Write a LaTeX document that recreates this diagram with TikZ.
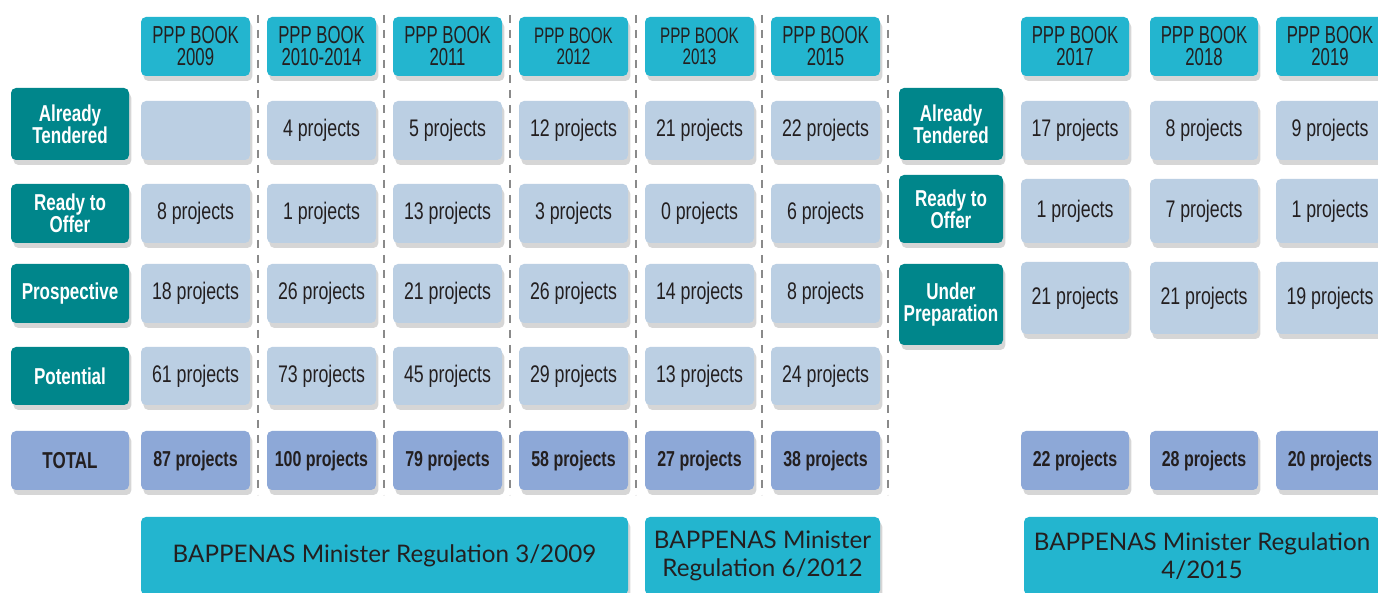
\documentclass[tikz,border=0pt]{standalone}
\usepackage{fontspec}
\newfontfamily\cond{Liberation Sans}[FakeStretch=0.74]
\newfontfamily\hcond{Liberation Sans}[FakeStretch=0.68]
\newfontfamily\regfont{Lato}
\usetikzlibrary{shadows}
\definecolor{hdr}{HTML}{23B5CF}
\definecolor{lbl}{HTML}{00868B}
\definecolor{cellc}{HTML}{BBCFE3}
\definecolor{totc}{HTML}{8DA8D7}
\definecolor{txt}{HTML}{231F20}
\definecolor{dashc}{HTML}{8A8A8A}
\begin{document}
\begin{tikzpicture}[x=0.5pt,y=-0.5pt,
  box/.style={rounded corners=2.5pt, inner sep=0pt, align=center,
    drop shadow={shadow xshift=1.2pt, shadow yshift=-2.5pt, opacity=0.16, fill=black}},
  hdrbox/.style={box, fill=hdr, text=txt, minimum width=54.5pt, minimum height=29.5pt,
    font=\hcond\fontsize{12.3}{11}\selectfont},
  cellbox/.style={box, fill=cellc, text=txt, minimum width=54.5pt, minimum height=29.5pt,
    font=\cond\fontsize{12}{13}\selectfont},
  totbox/.style={box, fill=totc, text=txt, minimum width=54.5pt, minimum height=29.5pt,
    font=\cond\bfseries\fontsize{10.8}{13}\selectfont},
  lblbox/.style={box, fill=lbl, text=white, minimum width=59pt, minimum height=29.5pt,
    font=\cond\bfseries\fontsize{11.5}{11}\selectfont},
  rlblbox/.style={lblbox, minimum width=52pt},
  regbox/.style={box, fill=hdr, text=txt, minimum height=39pt,
    font=\regfont\fontsize{12.1}{14}\selectfont},
  sep/.style={draw=dashc, line width=0.7pt, dash pattern=on 4pt off 3.5pt}
]
\clip (0,0) rectangle (1378,593);
\fill[white] (0,0) rectangle (1378,593);

% dashed separators
\foreach \x/\n in {258/a,384/b,510/c,636/d,762/e,888/f}{
  \coordinate (t\n) at (\x,15);
  \coordinate (b\n) at (\x,495);
  \draw[sep] (t\n) -- (b\n);
}

% headers
\node[hdrbox] (h1) at (195.5,46.5) {PPP BOOK\\2009};
\node[hdrbox] (h2) at (321.5,46.5) {PPP BOOK\\2010-2014};
\node[hdrbox] (h3) at (447.5,46.5) {PPP BOOK\\2011};
\node[hdrbox, font=\hcond\fontsize{11.2}{10.5}\selectfont] (h4) at (573.5,46.5) {PPP BOOK\\2012};
\node[hdrbox, font=\hcond\fontsize{11.2}{10.5}\selectfont] (h5) at (699.5,46.5) {PPP BOOK\\2013};
\node[hdrbox] (h6) at (825.5,46.5) {PPP BOOK\\2015};
\node[hdrbox, minimum width=54pt] (h7) at (1075,46.5) {PPP BOOK\\2017};
\node[hdrbox, minimum width=54pt] (h8) at (1204,46.5) {PPP BOOK\\2018};
\node[hdrbox, minimum width=54pt] (h9) at (1330,46.5) {PPP BOOK\\2019};

% left labels
\node[lblbox, minimum height=36pt] (lAT) at (70,124) {Already\\Tendered};
\node[lblbox] (lRO) at (70,213.5) {Ready to\\Offer};
\node[lblbox] (lPR) at (70,293.5) {Prospective};
\node[lblbox, minimum height=29pt] (lPO) at (70,376) {Potential};
\node[lblbox, fill=totc, text=txt] (lTO) at (70,460.5) {TOTAL};

% left cells
\node[cellbox] (c11) at (195.5,130.5) {};
\node[cellbox] (c12) at (321.5,130.5) {4 projects};
\node[cellbox] (c13) at (447.5,130.5) {5 projects};
\node[cellbox] (c14) at (573.5,130.5) {12 projects};
\node[cellbox] (c15) at (699.5,130.5) {21 projects};
\node[cellbox] (c16) at (825.5,130.5) {22 projects};

\node[cellbox] (c21) at (195.5,213.5) {8 projects};
\node[cellbox] (c22) at (321.5,213.5) {1 projects};
\node[cellbox] (c23) at (447.5,213.5) {13 projects};
\node[cellbox] (c24) at (573.5,213.5) {3 projects};
\node[cellbox] (c25) at (699.5,213.5) {0 projects};
\node[cellbox] (c26) at (825.5,213.5) {6 projects};

\node[cellbox] (c31) at (195.5,293.5) {18 projects};
\node[cellbox] (c32) at (321.5,293.5) {26 projects};
\node[cellbox] (c33) at (447.5,293.5) {21 projects};
\node[cellbox] (c34) at (573.5,293.5) {26 projects};
\node[cellbox] (c35) at (699.5,293.5) {14 projects};
\node[cellbox] (c36) at (825.5,293.5) {8 projects};

\node[cellbox, minimum height=29pt] (c41) at (195.5,376) {61 projects};
\node[cellbox, minimum height=29pt] (c42) at (321.5,376) {73 projects};
\node[cellbox, minimum height=29pt] (c43) at (447.5,376) {45 projects};
\node[cellbox, minimum height=29pt] (c44) at (573.5,376) {29 projects};
\node[cellbox, minimum height=29pt] (c45) at (699.5,376) {13 projects};
\node[cellbox, minimum height=29pt] (c46) at (825.5,376) {24 projects};

\node[totbox] (t1) at (195.5,460.5) {87 projects};
\node[totbox] (t2) at (321.5,460.5) {100 projects};
\node[totbox] (t3) at (447.5,460.5) {79 projects};
\node[totbox] (t4) at (573.5,460.5) {58 projects};
\node[totbox] (t5) at (699.5,460.5) {27 projects};
\node[totbox] (t6) at (825.5,460.5) {38 projects};

% right labels
\node[rlblbox, minimum height=36pt] (rAT) at (951,124) {Already\\Tendered};
\node[rlblbox, minimum height=34pt] (rRO) at (951,209) {Ready to\\Offer};
\node[rlblbox, minimum height=40.5pt] (rUP) at (951,304.5) {Under\\Preparation};

% right cells
\node[cellbox, minimum width=54pt] (r17) at (1075,130.5) {17 projects};
\node[cellbox, minimum width=54pt] (r18) at (1204,130.5) {8 projects};
\node[cellbox, minimum width=54pt] (r19) at (1330,130.5) {9 projects};

\node[cellbox, minimum width=54pt, minimum height=32pt] (r27) at (1075,211) {1 projects};
\node[cellbox, minimum width=54pt, minimum height=32pt] (r28) at (1204,211) {7 projects};
\node[cellbox, minimum width=54pt, minimum height=32pt] (r29) at (1330,211) {1 projects};

\node[cellbox, minimum width=54pt, minimum height=36pt] (r37) at (1075,298) {21 projects};
\node[cellbox, minimum width=54pt, minimum height=36pt] (r38) at (1204,298) {21 projects};
\node[cellbox, minimum width=54pt, minimum height=36pt] (r39) at (1330,298) {19 projects};

\node[totbox, minimum width=54pt] (rt7) at (1075,460.5) {22 projects};
\node[totbox, minimum width=54pt] (rt8) at (1204,460.5) {28 projects};
\node[totbox, minimum width=54pt] (rt9) at (1330,460.5) {20 projects};

% regulation boxes
\node[regbox, minimum width=243.5pt] (reg1) at (384.5,556) {BAPPENAS Minister Regulation 3/2009};
\node[regbox, minimum width=117.5pt] (reg2) at (762.5,556) {BAPPENAS Minister\\Regulation 6/2012};
\node[regbox, minimum width=178pt] (reg3) at (1202,556) {BAPPENAS Minister Regulation\\4/2015};
\end{tikzpicture}
\end{document}
